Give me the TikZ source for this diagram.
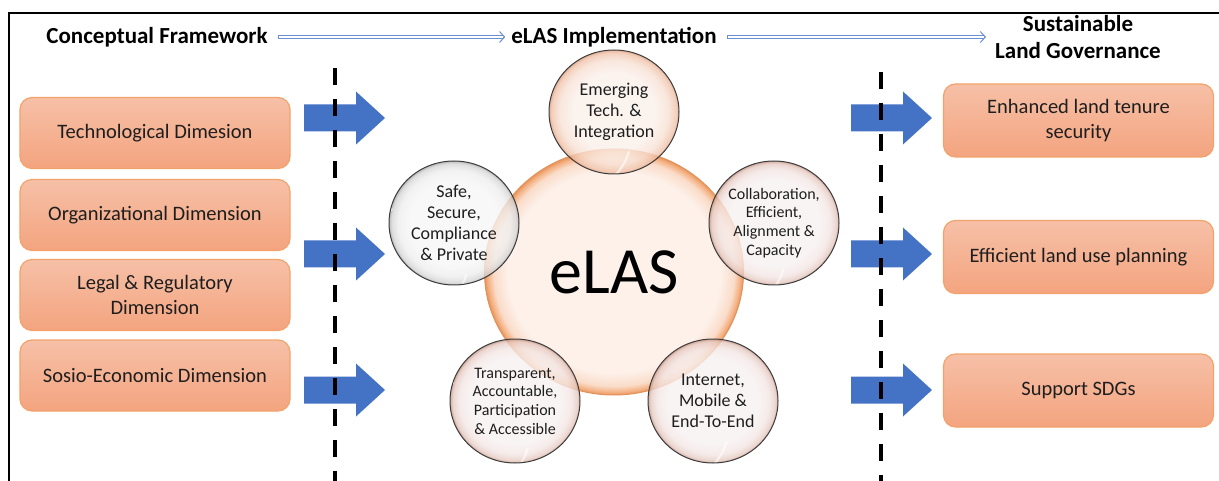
\documentclass[tikz,border=0pt]{standalone}
\usepackage{fontspec}
\setmainfont{Carlito}
\usetikzlibrary{shapes.geometric,arrows.meta}

% palette
\definecolor{boxtop}{HTML}{F6C0A7}
\definecolor{boxbot}{HTML}{F4A47F}
\definecolor{boxline}{HTML}{F2A36B}
\definecolor{arrowblue}{HTML}{4472C4}
\definecolor{hdrblue}{HTML}{6A8FD2}
\definecolor{inktext}{HTML}{1E1E1E}
\definecolor{ringgray}{HTML}{3C3C3C}
\definecolor{bigline}{HTML}{E2925A}

% glassy radial fills (edge of the shape sits at 25bp)
\definecolor{bigA}{HTML}{FDF1EA}
\definecolor{bigB}{HTML}{FADCC9}
\definecolor{bigC}{HTML}{F4B183}
\definecolor{bigD}{HTML}{E8955C}
\pgfdeclareradialshading{bigglass}{\pgfpoint{0bp}{0bp}}{%
  color(0bp)=(bigA); color(20.5bp)=(bigA); color(23.2bp)=(bigB);
  color(24.4bp)=(bigC); color(25bp)=(bigD); color(50bp)=(bigD)}

\definecolor{pinkA}{HTML}{F8F2F2}
\definecolor{pinkB}{HTML}{F3E6E4}
\definecolor{pinkC}{HTML}{E6CAC2}
\definecolor{pinkD}{HTML}{C39484}
\pgfdeclareradialshading{pinkglass}{\pgfpoint{0bp}{0bp}}{%
  color(0bp)=(pinkA); color(17bp)=(pinkA); color(21.5bp)=(pinkB);
  color(24bp)=(pinkC); color(25bp)=(pinkD); color(50bp)=(pinkD)}

\definecolor{grayA}{HTML}{F7F7F7}
\definecolor{grayB}{HTML}{EEEEEE}
\definecolor{grayC}{HTML}{D6D6D6}
\definecolor{grayD}{HTML}{A8A8A8}
\pgfdeclareradialshading{grayglass}{\pgfpoint{0bp}{0bp}}{%
  color(0bp)=(grayA); color(17bp)=(grayA); color(21.5bp)=(grayB);
  color(24bp)=(grayC); color(25bp)=(grayD); color(50bp)=(grayD)}

\definecolor{peachA}{HTML}{FBF0EA}
\definecolor{peachB}{HTML}{F8E0D3}
\definecolor{peachC}{HTML}{F0C2A9}
\definecolor{peachD}{HTML}{DE9C7C}
\pgfdeclareradialshading{peachglass}{\pgfpoint{0bp}{0bp}}{%
  color(0bp)=(peachA); color(16bp)=(peachA); color(21bp)=(peachB);
  color(24bp)=(peachC); color(25bp)=(peachD); color(50bp)=(peachD)}

\begin{document}
\begin{tikzpicture}[x=1pt,y=-1pt,
  hdr/.style={font=\fontsize{23}{27}\selectfont\bfseries, text=black, inner sep=4pt, align=center},
  % thin outlined arrow: a chevron tip plus a hollow two-line shaft
  hdrtip/.style={draw=hdrblue, line width=0.8pt,
    -{Straight Barb[length=5pt,width=11pt,line width=1pt]}, shorten <=6pt},
  hdrshaft/.style={draw=hdrblue, line width=3.2pt, shorten <=6pt,
    postaction={draw=white, line width=1.3pt, shorten <=7pt}},
  dimbox/.style={rectangle, rounded corners=12pt, draw=boxline, line width=1.2pt,
    top color=boxtop, bottom color=boxbot, minimum width=270pt, minimum height=71pt,
    font=\fontsize{20.5}{24.5}\selectfont, text=inktext, align=center},
  outbox/.style={dimbox, minimum height=73pt},
  bigtext/.style={font=\fontsize{18}{21}\selectfont},
  smalltext/.style={font=\fontsize{16}{18.7}\selectfont},
  glass/.style={ellipse, draw=ringgray, line width=1pt, minimum width=130pt,
    minimum height=124pt, inner sep=0pt, align=center, text=inktext, shade,
    fill opacity=0.78, text opacity=1,
    path picture={
      \begin{scope}[shift={(path picture bounding box.center)}]
        \draw[white, line width=2.6pt, opacity=0.75, line cap=round]
          (195:57 and 54.5) arc[start angle=195, end angle=250, x radius=57, y radius=54.5];
        \draw[white, line width=2.2pt, opacity=0.6, line cap=round]
          (15:57 and 54.5) arc[start angle=15, end angle=60, x radius=57, y radius=54.5];
      \end{scope}}},
  divider/.style={line width=3.6pt, black, dash pattern=on 17pt off 14pt},
  blockarrow/.pic={\fill[arrowblue] (0,-13.5) -- (52,-13.5) -- (52,-26.5) -- (81,0)
    -- (52,26.5) -- (52,13.5) -- (0,13.5) -- cycle;}
]
\useasboundingbox (0,0) rectangle (1219,481);
\fill[white] (0,0) rectangle (1219,481);

% frame edges
\draw[line width=2pt] (9,481) -- (9,13) -- (1219,13);

% column headings
\node[hdr] (cf) at (157,37) {Conceptual Framework};
\node[hdr] (impl) at (614,37) {eLAS Implementation};
\node[hdr] (slg) at (1078,37) {Sustainable\\Land Governance};
\draw[hdrtip, shorten >=2pt] (cf) -- (impl);
\draw[hdrshaft, shorten >=4pt] (cf) -- (impl);
\draw[hdrtip, shorten >=5pt] (impl) -- (slg);
\draw[hdrshaft, shorten >=7pt] (impl) -- (slg);

% framework dimensions
\node[dimbox] (tech) at (155,133) {Technological Dimesion};
\node[dimbox] (org) at (155,215) {Organizational Dimension};
\node[dimbox] (legal) at (155,295) {Legal \& Regulatory\\Dimension};
\node[dimbox] (socio) at (155,375.5) {Sosio-Economic Dimension};

% governance outcomes
\node[outbox] (tenure) at (1078.5,120.5) {Enhanced land tenure\\security};
\node[outbox] (landuse) at (1078.5,257) {Efficient land use planning};
\node[outbox] (sdg) at (1078.5,390.5) {Support SDGs};

% block arrows
\pic at (304,118) {blockarrow};
\pic at (304,254) {blockarrow};
\pic at (304,390) {blockarrow};
\pic at (851,118) {blockarrow};
\pic at (851,254) {blockarrow};
\pic at (851,390) {blockarrow};

% dashed dividers
\draw[divider] (335,68) -- (335,481);
\draw[divider] (881,72) -- (881,481);

% central eLAS bubble
\node[ellipse, minimum width=259pt, minimum height=246pt, inner sep=0pt, shade, shading=bigglass,
  draw=bigline, line width=1pt, text=black, font=\fontsize{66}{70}\selectfont,
  path picture={
    \begin{scope}[shift={(path picture bounding box.center)}]
      \draw[white, line width=3pt, opacity=0.7, line cap=round]
        (188:122 and 116) arc[start angle=188, end angle=255, x radius=122, y radius=116];
    \end{scope}}] (elas) at (614,272) {eLAS};

% surrounding bubbles
\node[glass, shading=peachglass, bigtext] (emt) at (614,112) {Emerging\\Tech. \&\\Integration};
\node[glass, shading=pinkglass, smalltext] (col) at (774,223) {Collaboration,\\Efficient,\\Alignment \&\\Capacity};
\node[glass, shading=pinkglass, bigtext] (inet) at (713,401) {Internet,\\Mobile \&\\End-To-End};
\node[glass, shading=pinkglass, smalltext] (trn) at (515,401) {Transparent,\\Accountable,\\Participation\\\& Accessible};
\node[glass, shading=grayglass, bigtext] (safe) at (454,223) {Safe,\\Secure,\\Compliance\\\& Private};
\end{tikzpicture}
\end{document}
